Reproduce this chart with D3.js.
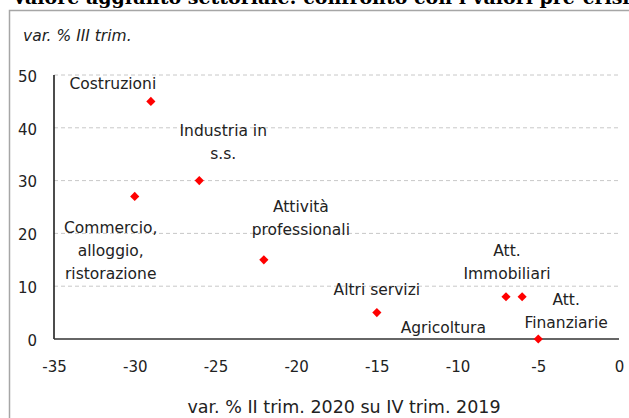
<!DOCTYPE html>
<html>
<head>
    <meta charset="utf-8">
    <title>Valore aggiunto settoriale</title>
    <script src="https://cdn.jsdelivr.net/npm/d3@7"></script>
    <style>
        body { margin: 0; background: #fff; }
        svg { display: block; font-family: "DejaVu Sans", sans-serif; }
    </style>
</head>
<body>
    <div id="chart"></div>
    <script>
        // dati
        const sectors = ["Costruzioni", "Industria in s.s.", "Commercio, alloggio, ristorazione",
            "Attività professionali", "Altri servizi", "Att. Immobiliari", "Att. Finanziarie", "Agricoltura"];
        const labelLines = [["Costruzioni"], ["Industria in", "s.s."], ["Commercio,", "alloggio,", "ristorazione"],
            ["Attività", "professionali"], ["Altri servizi"], ["Att.", "Immobiliari"], ["Att.", "Finanziarie"], ["Agricoltura"]];
        const varQ2 = [-29, -26, -30, -22, -15, -7, -6, -5];   // var. % II trim. 2020 su IV trim. 2019
        const varQ3 = [45, 30, 27, 15, 5, 8, 8, 0];            // var. % III trim.
        const xTicks = [-35, -30, -25, -20, -15, -10, -5, 0];
        const yTicks = [0, 10, 20, 30, 40, 50];

        // spostamento delle etichette rispetto al punto (px)
        const labelOffsets = [[-38, -12], [24, -45], [-24, 37], [37, -48], [0, -18], [1, -41], [44, 8], [-95, -6]];

        const W = 629, H = 418;
        const margin = { top: 75, right: 10, bottom: 79, left: 54 };
        const width = 619 - margin.left;
        const height = 339 - margin.top;

        const svg = d3.select("#chart").append("svg")
            .attr("width", W)
            .attr("height", H);

        // titolo tagliato in alto
        svg.append("text")
            .attr("x", 12)
            .attr("y", 4)
            .attr("font-family", "DejaVu Serif, serif")
            .attr("font-weight", "bold")
            .attr("font-size", "19px")
            .attr("fill", "#000")
            .text("Valore aggiunto settoriale: confronto con i valori pre-crisi");

        // cornice
        svg.append("rect")
            .attr("x", 9.5).attr("y", 10.5)
            .attr("width", 640).attr("height", 420)
            .attr("fill", "none")
            .attr("stroke", "#a6a6a6")
            .attr("stroke-width", 1.5);

        const g = svg.append("g")
            .attr("transform", "translate(" + margin.left + "," + margin.top + ")");

        const x = d3.scaleLinear().domain([-35, 0]).range([0, width]);
        const y = d3.scaleLinear().domain([0, 50]).range([height, 0]);

        // griglia
        g.append("g")
            .selectAll("line")
            .data(yTicks.filter(d => d > 0))
            .enter()
            .append("line")
            .attr("x1", 0).attr("x2", width)
            .attr("y1", d => y(d)).attr("y2", d => y(d))
            .attr("stroke", "#c8c8c8")
            .attr("stroke-width", 1)
            .attr("stroke-dasharray", "4,3");

        // asse y
        const yAxis = g.append("g")
            .call(d3.axisLeft(y).tickValues(yTicks).tickFormat(d => String(d)).tickSize(0).tickPadding(17));
        yAxis.select(".domain").remove();
        yAxis.selectAll("text")
            .attr("font-size", "15px")
            .attr("fill", "#222")
            .attr("font-family", "DejaVu Sans, sans-serif")
            .attr("dy", "0.42em");

        // asse x
        const xAxis = g.append("g")
            .attr("transform", "translate(0," + height + ")")
            .call(d3.axisBottom(x).tickValues(xTicks).tickFormat(d => String(d)).tickSize(0).tickPadding(22));
        xAxis.select(".domain").remove();
        xAxis.selectAll("text")
            .attr("font-size", "15px")
            .attr("fill", "#222")
            .attr("font-family", "DejaVu Sans, sans-serif")
            .attr("dy", "0.71em");

        // linee degli assi
        g.append("line")
            .attr("x1", 0).attr("x2", 0)
            .attr("y1", 0).attr("y2", height)
            .attr("stroke", "#111").attr("stroke-width", 1.5);
        g.append("line")
            .attr("x1", 0).attr("x2", width)
            .attr("y1", y(0)).attr("y2", y(0))
            .attr("stroke", "#333").attr("stroke-width", 1.5);

        // titoli degli assi
        svg.append("text")
            .attr("x", 23)
            .attr("y", 41)
            .attr("font-size", "15.5px")
            .attr("font-style", "italic")
            .attr("fill", "#222")
            .text("var. % III trim.");

        svg.append("text")
            .attr("x", 344)
            .attr("y", 413)
            .attr("text-anchor", "middle")
            .attr("font-size", "17.5px")
            .attr("fill", "#222")
            .text("var. % II trim. 2020 su IV trim. 2019");

        const points = sectors.map((s, i) => ({ name: s, lines: labelLines[i], xv: varQ2[i], yv: varQ3[i], off: labelOffsets[i] }));

        // punti
        g.selectAll(".pt")
            .data(points)
            .enter()
            .append("path")
            .attr("class", "pt")
            .attr("d", d3.symbol().type(d3.symbolSquare).size(42))
            .attr("transform", d => "translate(" + x(d.xv) + "," + y(d.yv) + ") rotate(45)")
            .attr("fill", "#ff0000");

        // etichette
        const labels = g.selectAll(".lbl")
            .data(points)
            .enter()
            .append("text")
            .attr("class", "lbl")
            .attr("text-anchor", "middle")
            .attr("font-size", "15.5px")
            .attr("fill", "#222");
        labels.selectAll("tspan")
            .data(d => d.lines.map((l, j) => ({ l: l, j: j, d: d })))
            .enter()
            .append("tspan")
            .attr("x", t => x(t.d.xv) + t.d.off[0])
            .attr("y", t => y(t.d.yv) + t.d.off[1] + t.j * 23)
            .text(t => t.l);
    </script>
</body>
</html>
